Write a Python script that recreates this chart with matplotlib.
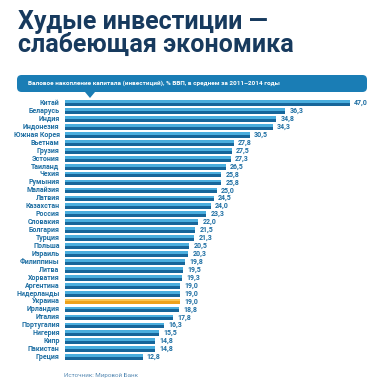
import matplotlib
matplotlib.use("Agg")
import matplotlib.pyplot as plt
from matplotlib.patches import FancyBboxPatch, Polygon

countries = ["Китай", "Беларусь", "Индия", "Индонезия", "Южная Корея", "Вьетнам",
             "Грузия", "Эстония", "Таиланд", "Чехия", "Румыния", "Малайзия", "Латвия",
             "Казахстан", "Россия", "Словакия", "Болгария", "Турция", "Польша", "Израиль",
             "Филиппины", "Литва", "Хорватия", "Аргентина", "Нидерланды", "Украина",
             "Ирландия", "Италия", "Португалия", "Нигерия", "Кипр", "Пакистан", "Греция"]
values = [47.0, 36.3, 34.8, 34.3, 30.5, 27.8, 27.5, 27.3, 26.5, 25.8, 25.8, 25.0, 24.5,
          24.0, 23.3, 22.0, 21.5, 21.3, 20.5, 20.3, 19.8, 19.5, 19.3, 19.0, 19.0, 19.0,
          18.8, 17.8, 16.3, 15.5, 14.8, 14.8, 12.8]
highlight = "Украина"

title = "Худые инвестиции —\nслабеющая экономика"
subtitle = "Валовое накопление капитала (инвестиций), % ВВП, в среднем за 2011–2014 годы"
source = "Источник: Мировой Банк"

plt.rcParams['font.family'] = ['Roboto', 'DejaVu Sans']

W, H = 382, 389
fig = plt.figure(figsize=(W / 100, H / 100), dpi=100)
fig.patch.set_facecolor("white")

navy = "#173a5e"
blue_text = "#1f6fa3"
light = "#4aaede"
dark = "#17669a"
olight = "#f9c451"
odark = "#eea21c"

# title
fig.text(18 / W, 1 - 10 / H, title, ha="left", va="top", fontsize=18,
         fontweight="bold", color=navy, linespacing=0.93)

# banner
bx0, bx1, by0, by1 = 17, 367, 75, 92
banner = FancyBboxPatch((bx0 / W, 1 - by1 / H), (bx1 - bx0) / W, (by1 - by0) / H,
                        boxstyle="round,pad=0,rounding_size=0.012",
                        transform=fig.transFigure, facecolor="#1a7db5",
                        edgecolor="none")
fig.patches.append(banner)
tri = Polygon([((90 - 5) / W, 1 - 92 / H), ((90 + 5) / W, 1 - 92 / H),
               (90 / W, 1 - 98 / H)], closed=True, transform=fig.transFigure,
              facecolor="#1a7db5", edgecolor="none")
fig.patches.append(tri)
fig.text(28 / W, 1 - 83.5 / H, subtitle, ha="left", va="center", fontsize=4.6,
         fontweight="bold", color="white")

# axes
n = len(countries)
row0, rowN = 103, 357
sp = (rowN - row0) / (n - 1)
top = row0 - sp / 2
bot = rowN + sp / 2
ax_left, ax_right = 65, 350
ax = fig.add_axes([ax_left / W, 1 - bot / H, (ax_right - ax_left) / W, (bot - top) / H])
ax.set_xlim(0, 47)
ax.set_ylim(n - 0.5, -0.5)
ax.axis("off")

ys = list(range(n))
lc = [olight if c == highlight else light for c in countries]
dc = [odark if c == highlight else dark for c in countries]
ax.barh([y - 0.17 for y in ys], values, height=0.34, color=lc, align="center")
ax.barh([y + 0.19 for y in ys], values, height=0.38, color=dc, align="center")

for y, c, v in zip(ys, countries, values):
    ax.text(-0.9, y, c, ha="right", va="center", fontsize=5.0, fontweight="bold",
            color=blue_text, clip_on=False)
    ax.text(v + 0.7, y, f"{v:.1f}".replace(".", ","), ha="left", va="center",
            fontsize=5.0, fontweight="bold", color=blue_text, clip_on=False)

fig.text(64 / W, 1 - 375 / H, source, ha="left", va="center", fontsize=4.5,
         color="#5b8db5")

fig.savefig("out.png", dpi=100, facecolor="white")
